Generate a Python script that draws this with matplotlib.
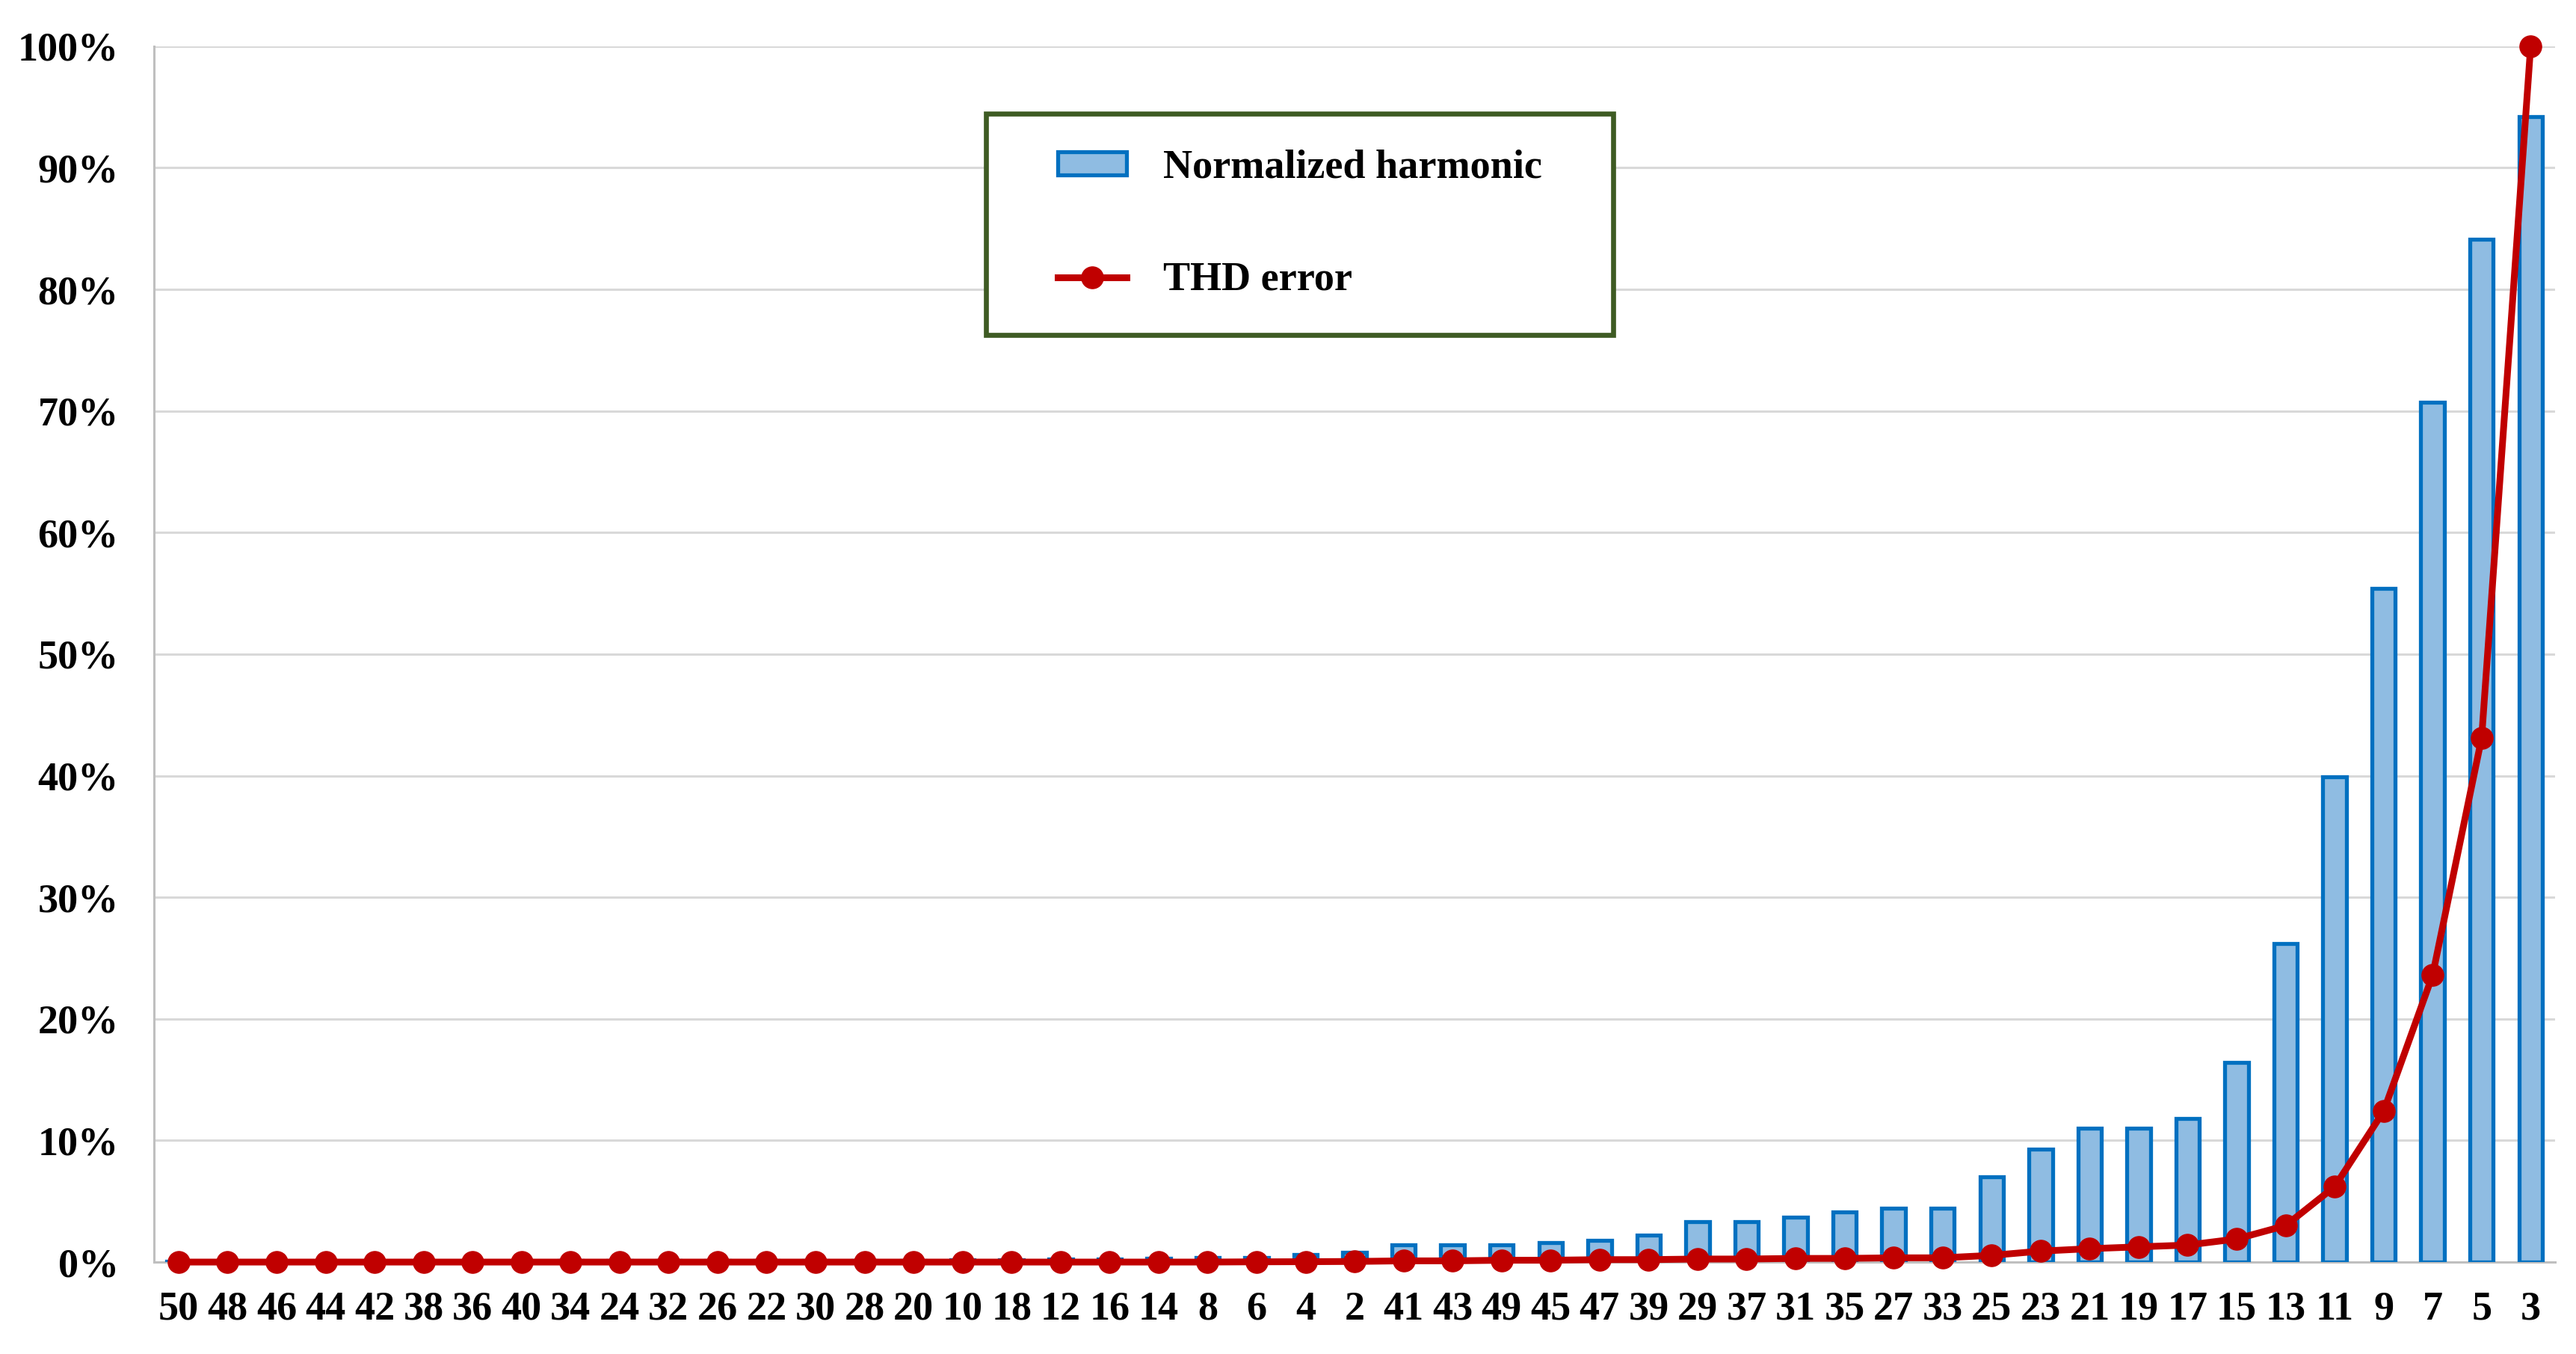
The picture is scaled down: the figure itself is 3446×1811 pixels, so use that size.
import matplotlib
matplotlib.use("Agg")
import matplotlib.pyplot as plt
from matplotlib.patches import Rectangle
from matplotlib.ticker import FuncFormatter, MultipleLocator
import numpy as np

# harmonic order, sorted the way the chart shows them
orders = [50, 48, 46, 44, 42, 38, 36, 40, 34, 24, 32, 26, 22, 30, 28, 20, 10, 18, 12, 16,
          14, 8, 6, 4, 2, 41, 43, 49, 45, 47, 39, 29, 37, 31, 35, 27, 33, 25, 23, 21,
          19, 17, 15, 13, 11, 9, 7, 5, 3]

# normalized harmonic amplitude (%)
harmonic = [0.05, 0.05, 0.05, 0.05, 0.05, 0.08, 0.08, 0.08, 0.1, 0.1, 0.1, 0.12, 0.12, 0.12, 0.15, 0.15, 0.2, 0.2, 0.25, 0.25,
            0.3, 0.35, 0.4, 0.6, 0.8, 1.4, 1.4, 1.4, 1.6, 1.8, 2.2, 3.3, 3.3, 3.7, 4.1, 4.4, 4.4, 7.0, 9.3, 11.0,
            11.0, 11.8, 16.4, 26.2, 39.9, 55.4, 70.7, 84.1, 94.2]

# THD error (%)
thd_error = [0.0, 0.0, 0.0, 0.0, 0.0, 0.0, 0.0, 0.0, 0.0, 0.0, 0.0, 0.0, 0.0, 0.0, 0.0, 0.0, 0.0, 0.0, 0.0, 0.0,
             0.0, 0.0, 0.02, 0.03, 0.05, 0.1, 0.1, 0.15, 0.15, 0.2, 0.2, 0.25, 0.25, 0.3, 0.3, 0.35, 0.35, 0.55, 0.9, 1.1,
             1.25, 1.4, 1.9, 3.0, 6.2, 12.4, 23.6, 43.1, 100.0]

plt.rcParams['font.family'] = ['Liberation Serif', 'DejaVu Serif']
plt.rcParams['font.weight'] = 'bold'

fig = plt.figure(figsize=(34.46, 18.11), dpi=100)
ax = fig.add_axes([0.0598, 0.0679, 0.9321, 0.898])

x = np.arange(len(orders))
bars = ax.bar(x, harmonic, width=0.48, color='#8FBCE2', edgecolor='#0070C0',
              linewidth=3.8, zorder=3, label='Normalized harmonic')
line, = ax.plot(x, thd_error, color='#C00000', linewidth=6.5, marker='o', markersize=21,
                zorder=4, clip_on=False, label='THD error')

ax.set_xlim(-0.5, len(orders) - 0.5)
ax.set_ylim(0, 100)
ax.yaxis.set_major_locator(MultipleLocator(10))
ax.yaxis.set_major_formatter(FuncFormatter(lambda v, p: f"{v:.0f}%"))
ax.set_xticks(x)
ax.set_xticklabels([str(o) for o in orders])

ax.grid(axis='y', color='#D9D9D9', linewidth=2.2, zorder=0)
ax.set_axisbelow(True)
for s in ['top', 'right']:
    ax.spines[s].set_visible(False)
ax.spines['left'].set_color('#BFBFBF')
ax.spines['left'].set_linewidth(2.2)
ax.spines['bottom'].set_color('#BFBFBF')
ax.spines['bottom'].set_linewidth(2.2)

ax.tick_params(axis='x', length=0, pad=28, labelsize=39)
ax.tick_params(axis='y', length=0, pad=34, labelsize=39)

# legend frame drawn by hand
frame = Rectangle((0.3465, 0.7626), 0.2612, 0.182, transform=ax.transAxes,
                  facecolor='white', edgecolor='#3E5B23', linewidth=4.8, zorder=5)
ax.add_patch(frame)
leg = ax.legend(handles=[bars, line], loc='center', bbox_to_anchor=(0.4771, 0.8536),
                frameon=False, fontsize=39, handlelength=1.7, handleheight=0.5,
                handletextpad=0.9, labelspacing=1.85, borderpad=0)
leg.set_zorder(6)

fig.savefig('out.png', dpi=100)
